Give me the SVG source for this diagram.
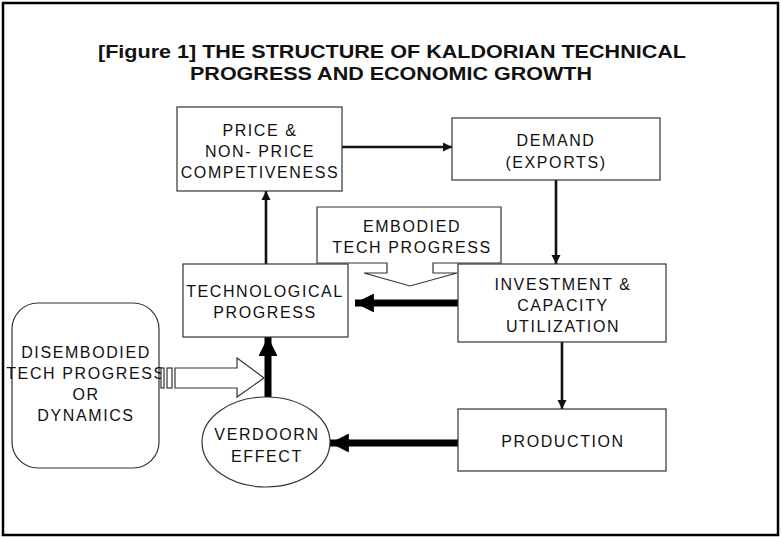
<svg xmlns="http://www.w3.org/2000/svg" width="781" height="537" viewBox="0 0 781 537">
  <style>
    .box { fill: #fff; stroke: #333; stroke-width: 1.2; }
    .lbl { font-family: "Liberation Sans", Arial, sans-serif; font-size: 16px; letter-spacing: 1.6px; fill: #111; text-anchor: middle; }
    .title { font-family: "Liberation Sans", Arial, sans-serif; font-size: 18.5px; font-weight: bold; fill: #111; text-anchor: middle; }
    .thin { stroke: #111; stroke-width: 2.6; fill: none; }
    .thick { stroke: #000; stroke-width: 7; fill: none; }
  </style>
  <defs>
    <marker id="ah" viewBox="0 0 10 10" refX="10" refY="5" markerWidth="3.6" markerHeight="3.6" orient="auto" markerUnits="strokeWidth">
      <path d="M0,0 L10,5 L0,10 Z" fill="#111"/>
    </marker>
    <marker id="ahBig" viewBox="0 0 10 10" refX="10" refY="5" markerWidth="2.7" markerHeight="2.7" orient="auto" markerUnits="strokeWidth">
      <path d="M0,0 L10,5 L0,10 Z" fill="#000"/>
    </marker>
  </defs>

  <!-- frame -->
  <rect x="3" y="3" width="775" height="532" fill="#fff" stroke="#000" stroke-width="2.5"/>

  <!-- title -->
  <text class="title" x="392" y="58" textLength="588" lengthAdjust="spacingAndGlyphs">[Figure 1] THE STRUCTURE OF KALDORIAN TECHNICAL</text>
  <text class="title" x="391" y="80" textLength="402" lengthAdjust="spacingAndGlyphs">PROGRESS AND ECONOMIC GROWTH</text>

  <!-- connectors -->
  <g id="connectors">
    <line class="thin" x1="342" y1="147" x2="452" y2="147" marker-end="url(#ah)"/>
    <line class="thin" x1="556" y1="180" x2="556" y2="264" marker-end="url(#ah)"/>
    <line class="thin" x1="562" y1="342" x2="562" y2="409" marker-end="url(#ah)"/>
    <line class="thin" x1="266" y1="264" x2="266" y2="191" marker-end="url(#ah)"/>
    <line class="thick" x1="458" y1="303" x2="355" y2="303" stroke-width="6.5" marker-end="url(#ahBig)"/>
    <line class="thick" x1="458" y1="443" x2="330" y2="443" marker-end="url(#ahBig)"/>
    <line class="thick" x1="268" y1="397" x2="268" y2="337" marker-end="url(#ahBig)"/>
  </g>

  <g id="price">
    <rect class="box" x="177" y="107" width="165" height="84"/>
    <text class="lbl" x="260" y="136">PRICE &amp;</text>
    <text class="lbl" x="260" y="157">NON- PRICE</text>
    <text class="lbl" x="260" y="178">COMPETIVENESS</text>
  </g>

  <g id="demand">
    <rect class="box" x="452" y="118" width="208" height="62"/>
    <text class="lbl" x="556" y="146">DEMAND</text>
    <text class="lbl" x="556" y="168">(EXPORTS)</text>
  </g>

  <g id="embodied">
    <path class="box" d="M317,207 H501 V263 H433 V273 H457 L410,286 L364,273 H387 V263 H317 Z"/>
    <text class="lbl" x="412" y="232">EMBODIED</text>
    <text class="lbl" x="412" y="253">TECH PROGRESS</text>
  </g>

  <g id="investment">
    <rect class="box" x="458" y="264" width="208" height="78"/>
    <text class="lbl" x="563" y="290">INVESTMENT &amp;</text>
    <text class="lbl" x="563" y="311">CAPACITY</text>
    <text class="lbl" x="563" y="332">UTILIZATION</text>
  </g>

  <g id="technological">
    <rect class="box" x="183" y="264" width="165" height="73"/>
    <text class="lbl" x="265" y="297">TECHNOLOGICAL</text>
    <text class="lbl" x="265" y="318">PROGRESS</text>
  </g>

  <g id="production">
    <rect class="box" x="458" y="409" width="208" height="62"/>
    <text class="lbl" x="563" y="447">PRODUCTION</text>
  </g>

  <g id="verdoorn">
    <ellipse class="box" cx="266" cy="442" rx="64" ry="45"/>
    <text class="lbl" x="267" y="440">VERDOORN</text>
    <text class="lbl" x="267" y="462">EFFECT</text>
  </g>

  <g id="disembodied">
    <rect class="box" x="12" y="303" width="147" height="165" rx="26" ry="26"/>
    <text class="lbl" x="86" y="358">DISEMBODIED</text>
    <text class="lbl" x="86" y="379">TECH PROGRESS</text>
    <text class="lbl" x="86" y="400">OR</text>
    <text class="lbl" x="86" y="421">DYNAMICS</text>
  </g>

  <!-- striped block arrow into the verdoorn/technology link -->
  <g id="striped-arrow">
    <rect class="box" x="161" y="368" width="3" height="20"/>
    <rect class="box" x="167" y="368" width="5" height="20"/>
    <path class="box" d="M175,368 H237 V358 L264,378 L237,397 V388 H175 Z"/>
  </g>
</svg>
